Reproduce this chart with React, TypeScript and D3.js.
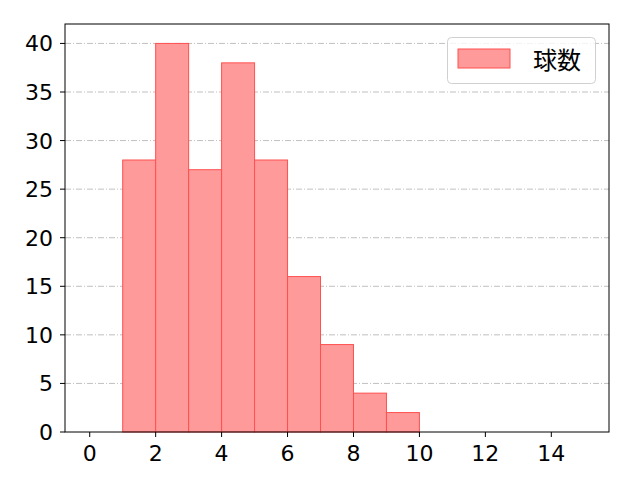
import React from "react";
import * as d3 from "d3";

// histogram bins (left edge) and pitch counts
const binStarts = [1, 2, 3, 4, 5, 6, 7, 8, 9];
const counts = [28, 40, 27, 38, 28, 16, 9, 4, 2];
const xTicks = [0, 2, 4, 6, 8, 10, 12, 14];
const yTicks = [0, 5, 10, 15, 20, 25, 30, 35, 40];
const seriesLabel = "球数";

const App: React.FC = () => {
  const width = 640;
  const height = 480;
  const margin = { top: 24, right: 31, bottom: 48, left: 65 };

  const x = d3.scaleLinear().domain([-0.75, 15.75]).range([margin.left, width - margin.right]);
  const y = d3.scaleLinear().domain([0, 42]).range([height - margin.bottom, margin.top]);
  const font = "'DejaVu Sans', 'Noto Sans CJK JP', sans-serif";

  return (
    <svg width={width} height={height} style={{ position: "absolute", left: 0, top: 0 }} fontFamily={font}>
      <rect x={0} y={0} width={width} height={height} fill="#fff" />
      {yTicks.filter((t) => t > 0).map((t) => (
        <line key={t} x1={x(-0.75)} x2={x(15.75)} y1={y(t)} y2={y(t)}
          stroke="#b0b0b0" strokeWidth={0.8} strokeDasharray="6 2 1 2" />
      ))}
      {binStarts.map((b, i) => (
        <rect key={b} x={x(b)} y={y(counts[i])} width={x(b + 1) - x(b)} height={y(0) - y(counts[i])}
          fill="#ff9a9a" stroke="#ff5050" strokeWidth={1} />
      ))}
      <rect x={margin.left} y={margin.top} width={width - margin.left - margin.right}
        height={height - margin.top - margin.bottom} fill="none" stroke="#000" strokeWidth={1} />
      {xTicks.map((t) => (
        <g key={t}>
          <line x1={x(t)} x2={x(t)} y1={y(0)} y2={y(0) + 5} stroke="#000" />
          <text x={x(t)} y={y(0) + 29} textAnchor="middle" fontSize={22}>{t}</text>
        </g>
      ))}
      {yTicks.map((t) => (
        <g key={t}>
          <line x1={margin.left - 5} x2={margin.left} y1={y(t)} y2={y(t)} stroke="#000" />
          <text x={margin.left - 12} y={y(t) + 8} textAnchor="end" fontSize={22}>{t}</text>
        </g>
      ))}
      <g>
        <rect x={447.5} y={37.5} width={148} height={46} rx={4} fill="#fff" fillOpacity={0.8} stroke="#d0d0d0" />
        <rect x={458} y={49} width={52} height={19} fill="#ff9a9a" stroke="#ff5050" />
        <text x={533} y={69} fontSize={24} fontFamily="'Noto Sans CJK JP', sans-serif">{seriesLabel}</text>
      </g>
    </svg>
  );
};

export default App;
